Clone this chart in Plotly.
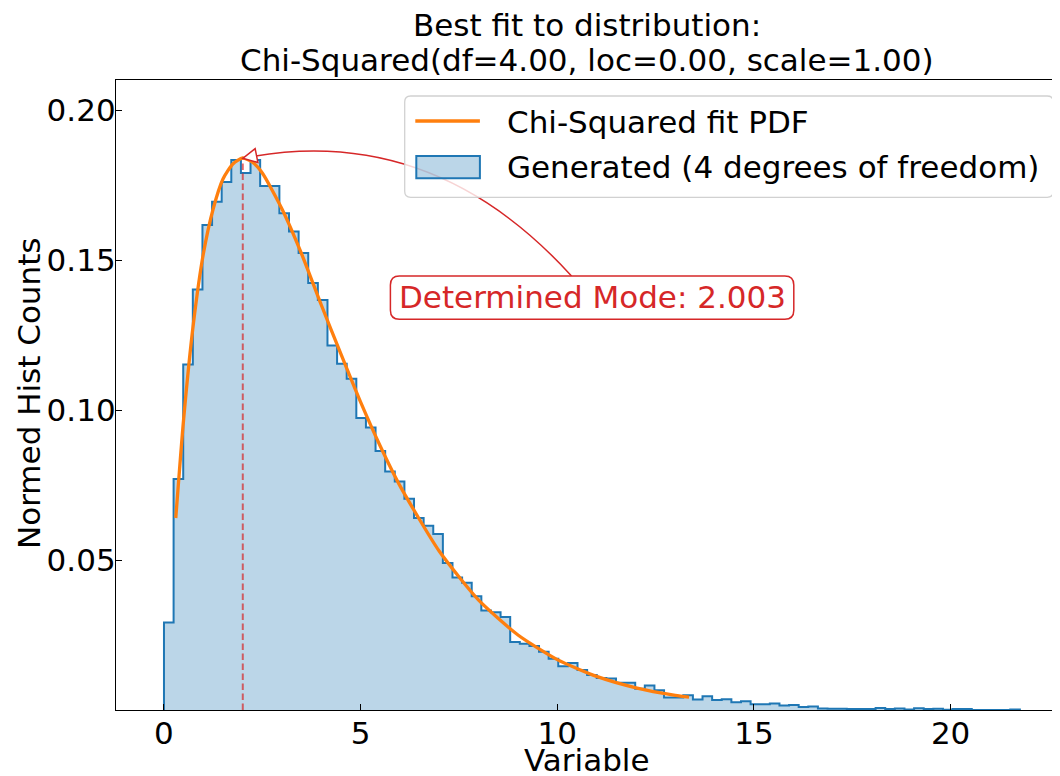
import plotly.graph_objects as go

# ---------------- data ----------------
bin_start = 0.0
bin_width = 0.2445
hist_density = [
    0.0292, 0.0770, 0.1152, 0.1402, 0.1617, 0.1694, 0.1760, 0.1833, 0.1790, 0.1833,
    0.1747, 0.1747, 0.1656, 0.1595, 0.1523, 0.1423, 0.1367, 0.1215, 0.1154, 0.1104,
    0.0973, 0.0942, 0.0863, 0.0795, 0.0762, 0.0704, 0.0640, 0.0614, 0.0587, 0.0490,
    0.0442, 0.0424, 0.0379, 0.0332, 0.0326, 0.0310, 0.0227, 0.0221, 0.0213, 0.0194,
    0.0171, 0.0146, 0.0157, 0.0133, 0.0117, 0.0107, 0.0105, 0.0091, 0.0091, 0.0071,
    0.0082, 0.0066, 0.0042, 0.0042, 0.0049, 0.0035, 0.0046, 0.0033, 0.0036, 0.0026,
    0.0029, 0.0019, 0.0019, 0.0022, 0.0015, 0.0017, 0.0010, 0.0012, 0.0005, 0.0004,
    0.0004, 0.0003, 0.0003, 0.0003, 0.0007, 0.0003, 0.0005, 0.0002, 0.0006, 0.0003,
    0.0004, 0.0001, 0.0003, 0.0003, 0.0000, 0.0000, 0.0000, 0.0000, 0.0002,
]

pdf_x = [0.3, 0.5, 0.75, 1.0, 1.25, 1.5, 1.75, 2.0, 2.25, 2.5, 3.0, 3.5, 4.0, 4.5,
         5.0, 5.5, 6.0, 7.0, 8.0, 9.0, 10.0, 11.0, 12.0, 13.0, 13.35]
pdf_y = [0.064, 0.097, 0.129, 0.152, 0.167, 0.177, 0.182, 0.184, 0.1826, 0.179,
         0.167, 0.152, 0.135, 0.1186, 0.1026, 0.0879, 0.0747, 0.0529, 0.0366,
         0.0250, 0.0168, 0.0112, 0.0074, 0.0049, 0.0043]

mode_x = 2.003
mode_y = 0.1839

x_ticks = [0, 5, 10, 15, 20]
y_ticks = [0.05, 0.10, 0.15, 0.20]
y_tick_text = ["0.05", "0.10", "0.15", "0.20"]

title_lines = ["Best fit to distribution:",
               "Chi-Squared(df=4.00, loc=0.00, scale=1.00)"]
legend_labels = ["Chi-Squared fit PDF", "Generated (4 degrees of freedom)"]
x_label = "Variable"
y_label = "Normed Hist Counts"
mode_label = "Determined Mode: %.3f" % mode_x

# ---------------- layout geometry ----------------
OFF = 8                      # page body margin of the browser
SW, SH = 1060, 776           # screen size
W, H = SW - OFF, SH - OFF
PL, PR, PT, PB = 116, 1058, 80, 710     # plot area on screen
ML, MT = PL - OFF, PT - OFF
MR, MB = W - (PR - OFF), H - (PB - OFF)
PW, PH = PR - PL, PB - PT
x_range = [-1.22, 22.73]
y_range = [0.0, 0.21]
FONT = "DejaVu Sans"
FS = 31
BLUE = "#1f77b4"
ORANGE = "#ff7f0e"
RED = "#d62728"

XPX = PW / (x_range[1] - x_range[0])
YPX = PH / (y_range[1] - y_range[0])


def d2px(x, y):
    return (PL + (x - x_range[0]) * XPX, PB - (y - y_range[0]) * YPX)


def px2d(px, py):
    return (x_range[0] + (px - PL) / XPX, y_range[0] + (PB - py) / YPX)


def px2paper(px, py):
    return ((px - PL) / PW, (PB - py) / PH)


def rounded_rect(x0, y0, x1, y1, r, conv):
    def P(px, py):
        a, b = conv(px, py)
        return "%.6f,%.6f" % (a, b)
    s = "M " + P(x0 + r, y0)
    s += " L " + P(x1 - r, y0) + " Q " + P(x1, y0) + " " + P(x1, y0 + r)
    s += " L " + P(x1, y1 - r) + " Q " + P(x1, y1) + " " + P(x1 - r, y1)
    s += " L " + P(x0 + r, y1) + " Q " + P(x0, y1) + " " + P(x0, y1 - r)
    s += " L " + P(x0, y0 + r) + " Q " + P(x0, y0) + " " + P(x0 + r, y0) + " Z"
    return s


fig = go.Figure()

# histogram (stepfilled)
n = len(hist_density)
edges = [bin_start + i * bin_width for i in range(n + 1)]
hx = [edges[0]] + edges[:n] + [edges[n]]
hy = [0.0] + hist_density + [0.0]
fig.add_trace(go.Scatter(
    x=hx, y=hy, mode="lines", line=dict(shape="hv", color=BLUE, width=2),
    fill="tozeroy", fillcolor="rgba(31,119,180,0.3)", showlegend=False,
    hoverinfo="skip"))

# mode line
fig.add_trace(go.Scatter(
    x=[mode_x, mode_x], y=[0, mode_y], mode="lines",
    line=dict(color="rgba(214,39,40,0.7)", width=2, dash="6.5px,3.5px"),
    showlegend=False, hoverinfo="skip"))

# fitted pdf
fig.add_trace(go.Scatter(
    x=pdf_x, y=pdf_y, mode="lines",
    line=dict(color=ORANGE, width=3.3, shape="spline", smoothing=0.6),
    showlegend=False, hoverinfo="skip"))

shapes = []
annotations = []

# ---- curved arrow annotation ----
label_cx, label_cy = 592.1, 297.6          # text centre, screen px
arrow_start_px = (571.5, 276.0)
arrow_ctrl_px = (431.0, 121.0)
tip_px = d2px(mode_x, mode_y)
A = px2d(*arrow_start_px)
C = px2d(*arrow_ctrl_px)
B = (mode_x, mode_y)
shapes.append(dict(type="path", xref="x", yref="y",
                   path="M %.6f,%.6f Q %.6f,%.6f %.6f,%.6f" % (A[0], A[1], C[0], C[1], B[0], B[1]),
                   line=dict(color=RED, width=1.5), layer="above"))
dx, dy = arrow_ctrl_px[0] - tip_px[0], arrow_ctrl_px[1] - tip_px[1]
L = (dx * dx + dy * dy) ** 0.5
ux, uy = dx / L, dy / L
bx, by = tip_px[0] + 14 * ux, tip_px[1] + 14 * uy
nx, ny = -uy, ux
p1 = px2d(bx + 7 * nx, by + 7 * ny)
p2 = px2d(bx - 7 * nx, by - 7 * ny)
shapes.append(dict(type="path", xref="x", yref="y",
                   path="M %.6f,%.6f L %.6f,%.6f L %.6f,%.6f Z" % (B[0], B[1], p1[0], p1[1], p2[0], p2[1]),
                   line=dict(color=RED, width=1.5), fillcolor="white", layer="above"))
shapes.append(dict(type="path", xref="x", yref="y",
                   path=rounded_rect(label_cx - 201.7, label_cy - 21.6, label_cx + 201.7, label_cy + 21.6, 9, px2d),
                   line=dict(color=RED, width=1.5), fillcolor="white", layer="above"))
lx, ly = px2d(label_cx, label_cy - 1)
annotations.append(dict(x=lx, y=ly, xref="x", yref="y", text=mode_label, showarrow=False,
                        xanchor="center", yanchor="middle",
                        font=dict(family=FONT, size=FS, color=RED)))

# ---- legend (drawn manually) ----
shapes.append(dict(type="path", xref="paper", yref="paper",
                   path=rounded_rect(404.7, 96, 1053.2, 197.3, 6, px2paper),
                   line=dict(color="rgba(204,204,204,0.9)", width=1.3),
                   fillcolor="rgba(255,255,255,0.8)", layer="above"))
a0 = px2paper(415.3, 121)
a1 = px2paper(479.9, 121)
shapes.append(dict(type="line", xref="paper", yref="paper", x0=a0[0], y0=a0[1], x1=a1[0], y1=a1[1],
                   line=dict(color=ORANGE, width=3.3), layer="above"))
r0 = px2paper(416.3, 178.3)
r1 = px2paper(479.9, 156)
shapes.append(dict(type="rect", xref="paper", yref="paper", x0=r0[0], y0=r0[1], x1=r1[0], y1=r1[1],
                   line=dict(color=BLUE, width=2), fillcolor="rgba(31,119,180,0.3)", layer="above"))
for lab, cy in zip(legend_labels, [121.5, 167.5]):
    tx, ty = px2paper(505.3, cy)
    annotations.append(dict(x=tx, y=ty, xref="paper", yref="paper", text=lab, showarrow=False,
                            xanchor="left", yanchor="middle",
                            font=dict(family=FONT, size=FS, color="black")))

# ---- title lines ----
for line, cy in zip(title_lines, [25, 60]):
    tx, ty = px2paper(PL + PW / 2, cy)
    annotations.append(dict(x=0.5, y=ty, xref="paper", yref="paper", text=line, showarrow=False,
                            xanchor="center", yanchor="middle",
                            font=dict(family=FONT, size=FS, color="black")))

# ---- axis titles ----
tx, ty = px2paper(PL + PW / 2, 760)
annotations.append(dict(x=0.5, y=ty, xref="paper", yref="paper", text=x_label, showarrow=False,
                        xanchor="center", yanchor="middle",
                        font=dict(family=FONT, size=FS, color="black")))
tx, ty = px2paper(29, 394)
annotations.append(dict(x=tx, y=ty, xref="paper", yref="paper", text=y_label, showarrow=False,
                        xanchor="center", yanchor="middle", textangle=-90,
                        font=dict(family=FONT, size=FS, color="black")))

axis_common = dict(showline=True, linecolor="black", linewidth=1.3, mirror=True,
                   ticks="inside", ticklen=6, tickwidth=1.3, tickcolor="black",
                   showgrid=False, zeroline=False, automargin=False,
                   tickfont=dict(family=FONT, size=FS, color="black"))

fig.update_layout(
    width=W, height=H,
    margin=dict(l=ML, r=MR, t=MT, b=MB, autoexpand=False),
    paper_bgcolor="white", plot_bgcolor="white",
    showlegend=False,
    xaxis=dict(range=x_range, tickvals=x_ticks, ticktext=[str(v) for v in x_ticks],
               ticklabelstandoff=-4, **axis_common),
    yaxis=dict(range=y_range, tickvals=y_ticks, ticktext=y_tick_text,
               ticklabelstandoff=-7, **axis_common),
    shapes=shapes, annotations=annotations,
)

fig.write_html("out.html")
